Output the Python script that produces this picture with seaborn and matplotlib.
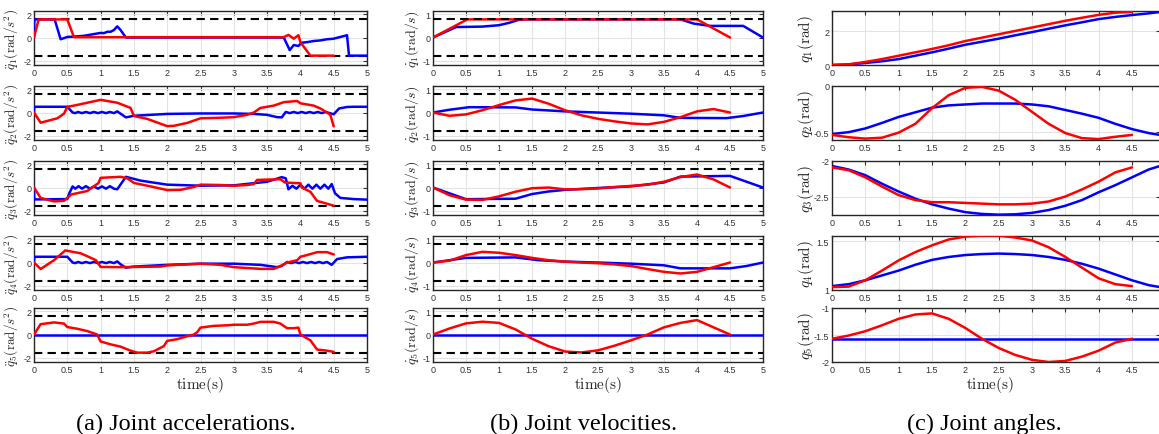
import numpy as np
import pandas as pd
import matplotlib
matplotlib.use("Agg")
import matplotlib.pyplot as plt
import seaborn as sns

# =============================
# DATA : joint accelerations (t, value)
# =============================
acc1_blue = [(0, 0), (0.005, 1.57), (0.31, 1.57), (0.4, -0.15), (0.5, 0.05), (0.6, 0.08),
             (0.75, 0.15), (0.9, 0.3), (1.0, 0.4), (1.05, 0.38), (1.1, 0.5), (1.15, 0.5),
             (1.2, 0.65), (1.25, 0.97), (1.3, 0.65), (1.38, 0), (3.75, 0), (3.84, -1.09),
             (3.9, -0.65), (3.97, -0.73), (4.02, -0.45), (4.1, -0.4), (4.2, -0.3), (4.3, -0.25),
             (4.4, -0.15), (4.5, -0.1), (4.6, 0.05), (4.7, 0.2), (4.73, -1.57), (5.0, -1.57)]
acc1_red = [(0, 0), (0.07, 1.57), (0.5, 1.57), (0.6, 0.03), (3.75, 0.03), (3.82, 0.23),
            (3.9, -0.1), (3.97, 0.2), (4.0, -0.4), (4.15, -1.57), (4.5, -1.57)]

acc2_blue = [(0, 0), (0.005, 0.5), (0.5, 0.5), (0.58, 0), (0.62, -0.05), (0.66, 0.05),
             (0.72, -0.05), (0.78, 0.05), (0.84, -0.05), (0.9, 0.05), (0.96, -0.05),
             (1.02, 0.05), (1.08, -0.05), (1.14, 0.05), (1.2, -0.05), (1.25, 0.1), (1.3, -0.1),
             (1.38, -0.42), (1.5, -0.28), (1.75, -0.2), (2.0, -0.12), (2.5, -0.08), (3.0, -0.08),
             (3.3, -0.12), (3.5, -0.2), (3.65, -0.4), (3.72, -0.42), (3.78, 0.05), (3.84, -0.05),
             (3.9, 0.05), (3.96, -0.05), (4.02, 0.05), (4.08, -0.05), (4.14, 0.05), (4.2, -0.05),
             (4.26, 0.05), (4.32, -0.05), (4.38, 0.05), (4.44, -0.05), (4.5, -0.15), (4.58, 0.35),
             (4.7, 0.48), (4.8, 0.5), (5.0, 0.5)]
acc2_red = [(0, 0), (0.1, -0.88), (0.35, -0.5), (0.45, -0.1), (0.5, 0.5), (0.6, 0.6),
            (0.8, 0.85), (1.0, 1.1), (1.1, 1.0), (1.25, 0.85), (1.45, 0.4), (1.5, -0.3),
            (1.7, -0.55), (2.0, -1.18), (2.1, -1.15), (2.3, -0.9), (2.5, -0.5), (2.8, -0.45),
            (3.0, -0.4), (3.2, -0.2), (3.3, 0), (3.4, 0.4), (3.6, 0.6), (3.75, 0.9),
            (3.95, 1.0), (4.0, 0.8), (4.2, 0.6), (4.3, 0.35), (4.4, 0.0), (4.45, -0.2),
            (4.5, -1.2)]

acc3_blue = [(0, 0), (0.005, -1.03), (0.5, -1.0), (0.53, -0.5), (0.58, 0.1), (0.62, -0.1),
             (0.67, 0.12), (0.72, -0.1), (0.78, 0.12), (0.84, -0.1), (0.9, 0.1), (0.96, -0.1),
             (1.02, 0.1), (1.08, -0.1), (1.14, 0.12), (1.2, -0.1), (1.25, -0.15), (1.38, 0.93),
             (1.6, 0.6), (2.0, 0.25), (2.5, 0.16), (3.0, 0.19), (3.5, 0.5), (3.72, 0.9),
             (3.78, 0.8), (3.82, -0.15), (3.88, 0.15), (3.94, -0.1), (4.0, 0.25), (4.06, -0.1),
             (4.12, 0.25), (4.18, -0.1), (4.24, 0.25), (4.3, -0.1), (4.36, 0.25), (4.42, -0.1),
             (4.47, 0.3), (4.52, -0.5), (4.6, -0.9), (4.8, -1.0), (5.0, -1.05)]
acc3_red = [(0, 0), (0.1, -0.9), (0.3, -1.2), (0.45, -1.15), (0.56, -0.6), (0.8, -0.3),
            (0.97, 0.4), (1.0, 0.84), (1.3, 0.93), (1.4, 0.8), (1.5, 0.4), (1.75, 0.1),
            (2.0, -0.22), (2.2, -0.2), (2.4, 0.05), (2.5, 0.25), (2.8, 0.22), (3.0, 0.15),
            (3.2, 0.22), (3.3, 0.3), (3.35, 0.66), (3.7, 0.72), (3.77, 0.43), (4.0, 0.37),
            (4.02, 0.0), (4.15, -0.37), (4.25, -1.16), (4.35, -1.32), (4.5, -1.57)]

acc4_blue = [(0, 0), (0.005, 0.5), (0.5, 0.5), (0.58, 0), (0.62, -0.05), (0.66, 0.05),
             (0.72, -0.05), (0.78, 0.05), (0.84, -0.05), (0.9, 0.05), (0.96, -0.05),
             (1.02, 0.05), (1.08, -0.05), (1.14, 0.05), (1.2, -0.05), (1.25, 0.1), (1.3, -0.15),
             (1.38, -0.45), (1.5, -0.35), (2.0, -0.2), (2.5, -0.1), (3.0, -0.1), (3.4, -0.2),
             (3.65, -0.4), (3.72, -0.3), (3.8, 0.05), (3.86, -0.05), (3.92, 0.05), (3.98, -0.05),
             (4.04, 0.05), (4.1, -0.05), (4.16, 0.05), (4.22, -0.05), (4.28, 0.05), (4.34, -0.05),
             (4.4, 0.05), (4.47, -0.2), (4.55, 0.3), (4.7, 0.45), (5.0, 0.5)]
acc4_red = [(0, 0), (0.1, -0.56), (0.3, 0.2), (0.47, 1.05), (0.7, 0.8), (0.8, 0.55),
            (0.93, 0.2), (1.0, -0.38), (1.3, -0.4), (1.9, -0.35), (2.0, -0.25), (2.5, -0.1),
            (2.8, -0.2), (3.0, -0.4), (3.4, -0.55), (3.6, -0.55), (3.7, -0.3), (3.8, 0),
            (3.95, 0.2), (4.0, 0.5), (4.1, 0.65), (4.25, 0.9), (4.4, 0.9), (4.5, 0.7)]

acc5_blue = [(0, 0), (5.0, 0)]
acc5_red = [(0, 0), (0.1, 0.9), (0.3, 1.05), (0.45, 0.95), (0.5, 0.65), (0.65, 0.5),
            (0.8, 0.3), (0.95, 0), (1.0, -0.6), (1.15, -0.85), (1.3, -1.05), (1.45, -1.4),
            (1.55, -1.57), (1.7, -1.57), (1.8, -1.45), (1.95, -1.0), (2.0, -0.55), (2.15, -0.4),
            (2.3, -0.15), (2.4, 0), (2.45, 0.2), (2.5, 0.6), (2.7, 0.75), (2.9, 0.8),
            (3.0, 0.85), (3.2, 0.85), (3.3, 0.95), (3.4, 1.1), (3.6, 1.1), (3.7, 0.95),
            (3.8, 0.55), (3.9, 0.55), (3.97, 0.6), (4.0, 0), (4.15, -0.5), (4.25, -1.3),
            (4.4, -1.4), (4.5, -1.5)]

# =============================
# DATA : joint velocities
# =============================
t_red = [0, 0.25, 0.5, 0.75, 1.0, 1.25, 1.5, 1.75, 2.0, 2.25, 2.5, 2.75, 3.0, 3.25,
         3.5, 3.75, 4.0, 4.25, 4.5]

vel1_blue = [(0, 0), (0.35, 0.45), (0.75, 0.47), (1.0, 0.53), (1.15, 0.63), (1.3, 0.76),
             (1.4, 0.78), (3.75, 0.78), (3.95, 0.6), (4.2, 0.5), (4.7, 0.5), (5.0, 0)]
vel1_red = [(0, 0), (0.52, 0.78), (4.0, 0.78), (4.5, 0)]

vel2_blue = [(0, 0), (0.25, 0.12), (0.55, 0.23), (1.25, 0.22), (1.5, 0.13), (2.0, 0.05),
             (2.5, 0.0), (3.0, -0.05), (3.5, -0.12), (3.75, -0.23), (4.45, -0.24), (4.7, -0.15),
             (5.0, 0)]
vel2_red = [0, -0.14, -0.08, 0.1, 0.32, 0.52, 0.6, 0.38, 0.1, -0.12, -0.27, -0.38, -0.47,
            -0.51, -0.4, -0.2, 0.05, 0.15, 0.0]

vel3_blue = [(0, 0), (0.5, -0.5), (1.25, -0.48), (1.5, -0.28), (1.75, -0.17), (2.0, -0.1),
             (2.5, -0.02), (3.0, 0.05), (3.5, 0.22), (3.75, 0.47), (4.5, 0.5), (5.0, 0)]
vel3_red = [0, -0.33, -0.52, -0.53, -0.38, -0.18, -0.03, 0.0, -0.08, -0.07, -0.04, 0.02,
            0.07, 0.12, 0.25, 0.45, 0.56, 0.35, 0.0]

vel4_blue = [(0, 0), (0.5, 0.2), (1.25, 0.22), (1.6, 0.1), (2.0, 0.04), (2.5, 0.0),
             (3.0, -0.05), (3.5, -0.12), (3.75, -0.25), (4.5, -0.25), (4.75, -0.15), (5.0, 0)]
vel4_red = [0, 0.08, 0.32, 0.46, 0.42, 0.32, 0.2, 0.1, 0.04, 0.0, -0.03, -0.08, -0.15,
            -0.28, -0.4, -0.47, -0.4, -0.2, 0.0]

vel5_blue = [(0, 0), (5.0, 0)]
vel5_red = [0, 0.26, 0.48, 0.55, 0.5, 0.22, -0.18, -0.5, -0.73, -0.77, -0.68, -0.48,
            -0.25, 0.0, 0.31, 0.5, 0.62, 0.31, 0.0]

# =============================
# DATA : joint angles
# =============================
t_blue = [0, 0.25, 0.5, 0.75, 1.0, 1.25, 1.5, 1.75, 2.0, 2.25, 2.5, 2.75, 3.0, 3.25,
          3.5, 3.75, 4.0, 4.25, 4.5, 4.75, 4.92]

ang1_blue = [0, 0.03, 0.12, 0.22, 0.35, 0.55, 0.75, 0.97, 1.2, 1.38, 1.56, 1.76, 1.95,
             2.15, 2.35, 2.53, 2.72, 2.85, 2.96, 3.06, 3.14]
ang1_red = [0, 0.04, 0.18, 0.35, 0.55, 0.75, 0.95, 1.17, 1.42, 1.62, 1.82, 2.02, 2.22,
            2.42, 2.62, 2.8, 2.97, 3.1, 3.14]

ang2_blue = [-0.52, -0.5, -0.46, -0.4, -0.335, -0.285, -0.235, -0.21, -0.2, -0.19, -0.19,
             -0.19, -0.2, -0.22, -0.26, -0.3, -0.345, -0.41, -0.467, -0.51, -0.53]
ang2_red = [-0.53, -0.555, -0.57, -0.56, -0.505, -0.41, -0.24, -0.1, -0.02, -0.01, -0.05,
            -0.15, -0.28, -0.41, -0.51, -0.565, -0.575, -0.55, -0.53]

ang3_blue = [-2.07, -2.12, -2.2, -2.32, -2.43, -2.53, -2.61, -2.67, -2.72, -2.745, -2.755,
             -2.75, -2.73, -2.69, -2.63, -2.55, -2.44, -2.34, -2.23, -2.12, -2.07]
ang3_red = [-2.09, -2.13, -2.23, -2.36, -2.48, -2.55, -2.58, -2.58, -2.59, -2.6, -2.61,
            -2.61, -2.6, -2.57, -2.5, -2.4, -2.29, -2.16, -2.09]

ang4_blue = [1.04, 1.06, 1.1, 1.15, 1.2, 1.26, 1.31, 1.34, 1.36, 1.37, 1.375, 1.37, 1.36,
             1.34, 1.31, 1.27, 1.22, 1.16, 1.1, 1.05, 1.03]
ang4_red = [1.03, 1.035, 1.1, 1.2, 1.305, 1.39, 1.46, 1.52, 1.55, 1.56, 1.56, 1.54, 1.51,
            1.44, 1.34, 1.23, 1.12, 1.06, 1.04]

ang5_blue = [-1.5708] * len(t_blue)
ang5_red = [-1.57, -1.51, -1.43, -1.32, -1.2, -1.12, -1.1, -1.2, -1.37, -1.57, -1.74,
            -1.87, -1.96, -2.0, -1.98, -1.9, -1.79, -1.64, -1.57]

# limits and labels
acc_limit = 1.5708
vel_limit = 0.7854
acc_labels = [r"$\ddot{q}_%d(\mathrm{rad}/s^2)$" % i for i in range(1, 6)]
vel_labels = [r"$\dot{q}_%d(\mathrm{rad}/s)$" % i for i in range(1, 6)]
ang_labels = [r"$q_%d(\mathrm{rad})$" % i for i in range(1, 6)]
ang_ylims = [(0, 3.2), (-0.585, 0), (-2.76, -2.0), (1.0, 1.556), (-2.0, -1.0)]
ang_yticks = [[0, 2], [-0.5, 0], [-2.5, -2], [1, 1.5], [-2, -1.5, -1]]
ang_yticklabels = [["0", "2"], ["-0.5", "0"], ["-2.5", "-2"], ["1", "1.5"], ["-2", "-1.5", "-1"]]
x_ticks = [0, 0.5, 1, 1.5, 2, 2.5, 3, 3.5, 4, 4.5, 5]
x_ticklabels = ["0", "0.5", "1", "1.5", "2", "2.5", "3", "3.5", "4", "4.5", "5"]
captions = ["(a) Joint accelerations.", "(b) Joint velocities.", "(c) Joint angles."]

# =============================
# STYLE
# =============================
sns.set_theme(style="whitegrid")
plt.rcParams["font.family"] = ["Liberation Sans", "DejaVu Sans"]
plt.rcParams["mathtext.fontset"] = "cm"

W, H = 1159, 435
fig = plt.figure(figsize=(W / 100, H / 100), dpi=100)
fig.patch.set_facecolor("white")

col_left = [34, 433, 832]
col_right = [367, 763, 1160]
row_top = [12, 87, 162, 237, 309]
row_h = 54
label_x = [-0.038, -0.035, -0.05]
label_size = [9.5, 10, 11]
BLUE = "#0000ff"
RED = "#ff0000"


def make_ax(c, r):
    x0, x1 = col_left[c], col_right[c]
    y0 = row_top[r]
    ax = fig.add_axes([x0 / W, 1 - (y0 + row_h) / H, (x1 - x0) / W, row_h / H])
    ax.set_facecolor("white")
    for s in ax.spines.values():
        s.set_color("#262626")
        s.set_linewidth(1.0)
    ax.grid(True, color="#e3e3e3", lw=0.8)
    ax.tick_params(direction="in", length=3, width=0.8, top=True, right=True,
                   labelsize=6.5, colors="#333333", pad=2)
    ax.set_xticks(x_ticks)
    ax.set_xticklabels(x_ticklabels)
    return ax


def pairs_df(pts):
    return pd.DataFrame(pts, columns=["t", "v"])


def plot_series(ax, df, color, z):
    sns.lineplot(data=df, x="t", y="v", ax=ax, color=color, lw=1.8, sort=False,
                 estimator=None, zorder=z)


def finish(ax, c, label):
    ax.set_ylabel(label, fontsize=label_size[c], color="#262626")
    ax.yaxis.set_label_coords(label_x[c], 0.5)
    ax.set_xlabel("")


acc_sets = [(acc1_blue, acc1_red), (acc2_blue, acc2_red), (acc3_blue, acc3_red),
            (acc4_blue, acc4_red), (acc5_blue, acc5_red)]
vel_sets = [(vel1_blue, vel1_red), (vel2_blue, vel2_red), (vel3_blue, vel3_red),
            (vel4_blue, vel4_red), (vel5_blue, vel5_red)]
ang_sets = [(ang1_blue, ang1_red), (ang2_blue, ang2_red), (ang3_blue, ang3_red),
            (ang4_blue, ang4_red), (ang5_blue, ang5_red)]

# column a : accelerations
for r, (b, rd) in enumerate(acc_sets):
    ax = make_ax(0, r)
    for lim in (acc_limit, -acc_limit):
        ax.axhline(lim, color="black", lw=1.5, ls=(0, (4, 2.5)), zorder=2)
    plot_series(ax, pairs_df(b), BLUE, 3)
    plot_series(ax, pairs_df(rd), RED, 4)
    ax.set_xlim(0, 5)
    ax.set_ylim(-2.38, 2.3)
    ax.set_yticks([-2, 0, 2])
    ax.set_yticklabels(["-2", "0", "2"])
    finish(ax, 0, acc_labels[r])

# column b : velocities
for r, (b, rd) in enumerate(vel_sets):
    ax = make_ax(1, r)
    plot_series(ax, pairs_df(b), BLUE, 3)
    if isinstance(rd[0], tuple):
        plot_series(ax, pairs_df(rd), RED, 4)
    else:
        plot_series(ax, pd.DataFrame({"t": t_red, "v": rd}), RED, 4)
    for lim in (vel_limit, -vel_limit):
        ax.axhline(lim, color="black", lw=1.5, ls=(0, (4, 2.5)), zorder=5)
    ax.set_xlim(0, 5)
    ax.set_ylim(-1.18, 1.14)
    ax.set_yticks([-1, 0, 1])
    ax.set_yticklabels(["-1", "0", "1"])
    finish(ax, 1, vel_labels[r])

# column c : angles
for r, (b, rd) in enumerate(ang_sets):
    ax = make_ax(2, r)
    plot_series(ax, pd.DataFrame({"t": t_blue, "v": b}), BLUE, 3)
    plot_series(ax, pd.DataFrame({"t": t_red, "v": rd}), RED, 4)
    ax.set_xlim(0, 4.92)
    ax.set_ylim(*ang_ylims[r])
    ax.set_yticks(ang_yticks[r])
    ax.set_yticklabels(ang_yticklabels[r])
    finish(ax, 2, ang_labels[r])

# x labels and captions
time_x = [200, 598, 990]
for c in range(3):
    fig.text(time_x[c] / W, 1 - 385 / H, r"$\mathrm{time(s)}$", ha="center", va="center",
             fontsize=11, color="#262626")

cap_x = [186, 584, 984]
for c in range(3):
    fig.text(cap_x[c] / W, 1 - 424 / H, captions[c], ha="center", va="center",
             fontsize=17.5, family=["Liberation Serif", "DejaVu Serif"], color="black")

fig.savefig("out.png", dpi=100, facecolor="white")
